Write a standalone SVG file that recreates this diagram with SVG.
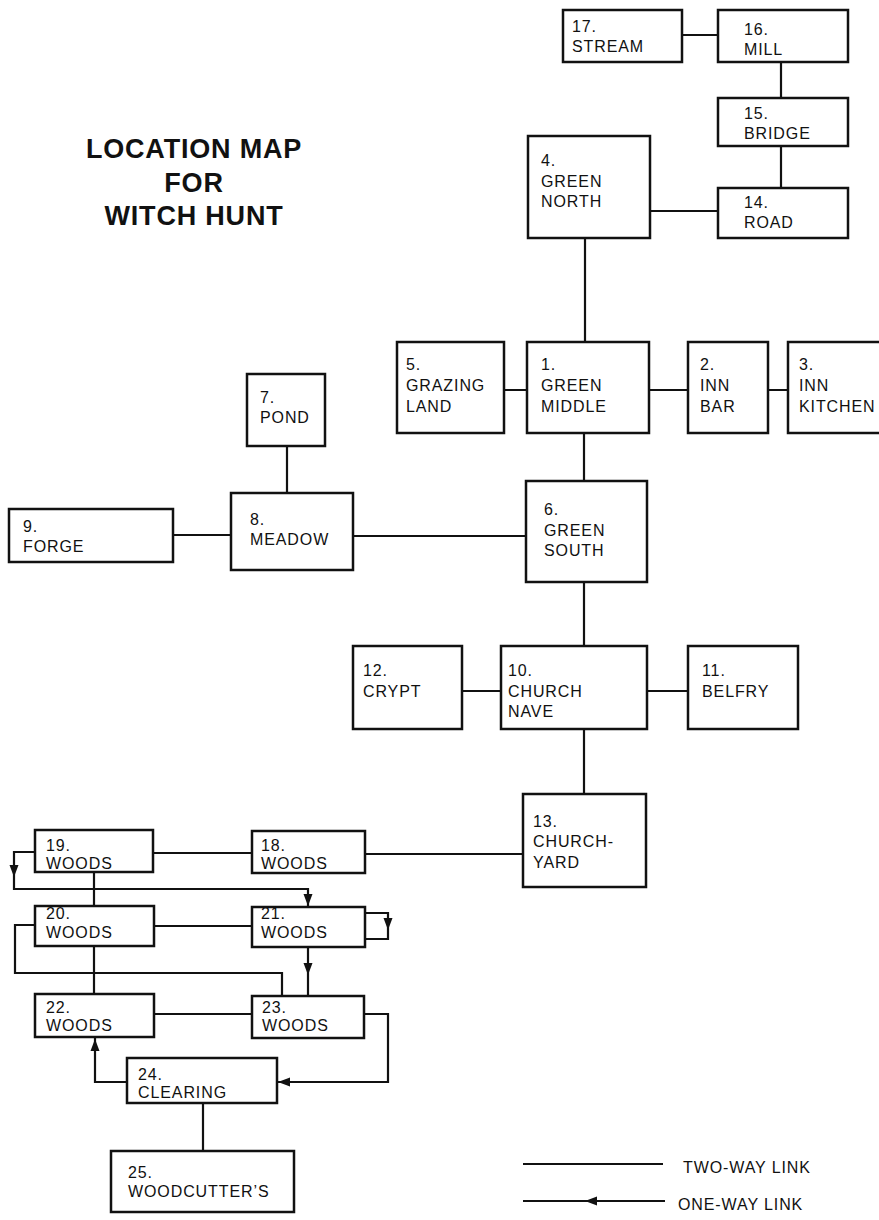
<svg xmlns="http://www.w3.org/2000/svg" xmlns:xlink="http://www.w3.org/1999/xlink" width="879" height="1220" viewBox="0 0 879 1220">
<style>
.box{fill:#fff;stroke:#111;stroke-width:2.5}
.ln{fill:none;stroke:#111;stroke-width:2.2}
.t{font-family:"Liberation Sans",Arial,sans-serif;font-size:16px;letter-spacing:0.9px;fill:#111}
.title{font-family:"Liberation Sans",Arial,sans-serif;font-size:27px;font-weight:bold;letter-spacing:0.8px;fill:#111;text-anchor:middle}
</style>
<defs>
<polygon id="ah" points="0,0 -4.5,-12 4.5,-12" fill="#111"/>
</defs>
<rect width="879" height="1220" fill="#fff"/>
<g id="title">
<text class="title" x="194" y="158">LOCATION MAP</text>
<text class="title" x="194" y="192">FOR</text>
<text class="title" x="194" y="225">WITCH HUNT</text>
</g>
<g id="connectors">
<path class="ln" d="M682,35H718M781,62V98M781,146V188M650,211H718M585,238V342"/>
<path class="ln" d="M504,390H527M649,390H688M768,390H788M584,433V481"/>
<path class="ln" d="M287,446V493M173,535H231M353,536H526M584,582V646"/>
<path class="ln" d="M462,691H501M647,691H688M584,729V794M365,854H523"/>
<path class="ln" d="M153,853H252M94,872V906M154,926H252M94,946V994M154,1014H252M203,1103V1151"/>
<path class="ln" d="M35,925H15V973H282V996"/>
<path class="ln" d="M35,852H14V889H308V907"/>
<path class="ln" d="M365,913H388V939H365"/>
<path class="ln" d="M308,947V996"/>
<path class="ln" d="M364,1014H388V1082H277"/>
<path class="ln" d="M127,1082H95V1037"/>
<use xlink:href="#ah" transform="translate(14,877)"/>
<use xlink:href="#ah" transform="translate(308,906)"/>
<use xlink:href="#ah" transform="translate(388,930)"/>
<use xlink:href="#ah" transform="translate(308,975)"/>
<use xlink:href="#ah" transform="translate(278,1082) rotate(90)"/>
<use xlink:href="#ah" transform="translate(95,1039) rotate(180)"/>
</g>
<g id="n17"><rect class="box" x="563" y="10" width="119" height="52"/><text class="t" x="572" y="32">17.</text><text class="t" x="572" y="52">STREAM</text></g>
<g id="n16"><rect class="box" x="718" y="10" width="130" height="52"/><text class="t" x="744" y="35">16.</text><text class="t" x="744" y="55">MILL</text></g>
<g id="n15"><rect class="box" x="718" y="98" width="130" height="48"/><text class="t" x="744" y="119">15.</text><text class="t" x="744" y="139">BRIDGE</text></g>
<g id="n14"><rect class="box" x="718" y="188" width="130" height="50"/><text class="t" x="744" y="208">14.</text><text class="t" x="744" y="228">ROAD</text></g>
<g id="n4"><rect class="box" x="528" y="136" width="122" height="102"/><text class="t" x="541" y="166">4.</text><text class="t" x="541" y="187">GREEN</text><text class="t" x="541" y="207">NORTH</text></g>
<g id="n5"><rect class="box" x="397" y="342" width="107" height="91"/><text class="t" x="406" y="370">5.</text><text class="t" x="406" y="391">GRAZING</text><text class="t" x="406" y="412">LAND</text></g>
<g id="n1"><rect class="box" x="527" y="342" width="122" height="91"/><text class="t" x="541" y="370">1.</text><text class="t" x="541" y="391">GREEN</text><text class="t" x="541" y="412">MIDDLE</text></g>
<g id="n2"><rect class="box" x="688" y="342" width="80" height="91"/><text class="t" x="700" y="370">2.</text><text class="t" x="700" y="391">INN</text><text class="t" x="700" y="412">BAR</text></g>
<g id="n3"><rect class="box" x="788" y="342" width="110" height="91"/><text class="t" x="799" y="370">3.</text><text class="t" x="799" y="391">INN</text><text class="t" x="799" y="412">KITCHEN</text></g>
<g id="n7"><rect class="box" x="247" y="374" width="78" height="72"/><text class="t" x="260" y="403">7.</text><text class="t" x="260" y="423">POND</text></g>
<g id="n8"><rect class="box" x="231" y="493" width="122" height="77"/><text class="t" x="250" y="525">8.</text><text class="t" x="250" y="545">MEADOW</text></g>
<g id="n9"><rect class="box" x="9" y="509" width="164" height="53"/><text class="t" x="23" y="532">9.</text><text class="t" x="23" y="552">FORGE</text></g>
<g id="n6"><rect class="box" x="526" y="481" width="121" height="101"/><text class="t" x="544" y="515">6.</text><text class="t" x="544" y="536">GREEN</text><text class="t" x="544" y="556">SOUTH</text></g>
<g id="n12"><rect class="box" x="353" y="646" width="109" height="83"/><text class="t" x="363" y="676">12.</text><text class="t" x="363" y="697">CRYPT</text></g>
<g id="n10"><rect class="box" x="501" y="646" width="146" height="83"/><text class="t" x="508" y="676">10.</text><text class="t" x="508" y="697">CHURCH</text><text class="t" x="508" y="717">NAVE</text></g>
<g id="n11"><rect class="box" x="688" y="646" width="110" height="83"/><text class="t" x="702" y="676">11.</text><text class="t" x="702" y="697">BELFRY</text></g>
<g id="n13"><rect class="box" x="523" y="794" width="123" height="93"/><text class="t" x="533" y="827">13.</text><text class="t" x="533" y="847">CHURCH-</text><text class="t" x="533" y="868">YARD</text></g>
<g id="n18"><rect class="box" x="252" y="831" width="113" height="42"/><text class="t" x="261" y="851">18.</text><text class="t" x="261" y="869">WOODS</text></g>
<g id="n19"><rect class="box" x="35" y="830" width="118" height="42"/><text class="t" x="46" y="851">19.</text><text class="t" x="46" y="869">WOODS</text></g>
<g id="n20"><rect class="box" x="35" y="906" width="119" height="40"/><text class="t" x="46" y="919">20.</text><text class="t" x="46" y="938">WOODS</text></g>
<g id="n21"><rect class="box" x="252" y="907" width="113" height="40"/><text class="t" x="261" y="919">21.</text><text class="t" x="261" y="938">WOODS</text></g>
<g id="n22"><rect class="box" x="35" y="994" width="119" height="43"/><text class="t" x="46" y="1013">22.</text><text class="t" x="46" y="1031">WOODS</text></g>
<g id="n23"><rect class="box" x="252" y="996" width="112" height="42"/><text class="t" x="262" y="1013">23.</text><text class="t" x="262" y="1031">WOODS</text></g>
<g id="n24"><rect class="box" x="127" y="1058" width="150" height="45"/><text class="t" x="138" y="1080">24.</text><text class="t" x="138" y="1098">CLEARING</text></g>
<g id="n25"><rect class="box" x="111" y="1151" width="183" height="61"/><text class="t" x="128" y="1178">25.</text><text class="t" x="128" y="1197">WOODCUTTER’S</text></g>
<g id="legend">
<path class="ln" d="M523,1164H663M523,1201H665"/>
<use xlink:href="#ah" transform="translate(585,1201) rotate(90)"/>
<text class="t" x="683" y="1173">TWO-WAY LINK</text>
<text class="t" x="678" y="1210">ONE-WAY LINK</text>
</g>
</svg>
